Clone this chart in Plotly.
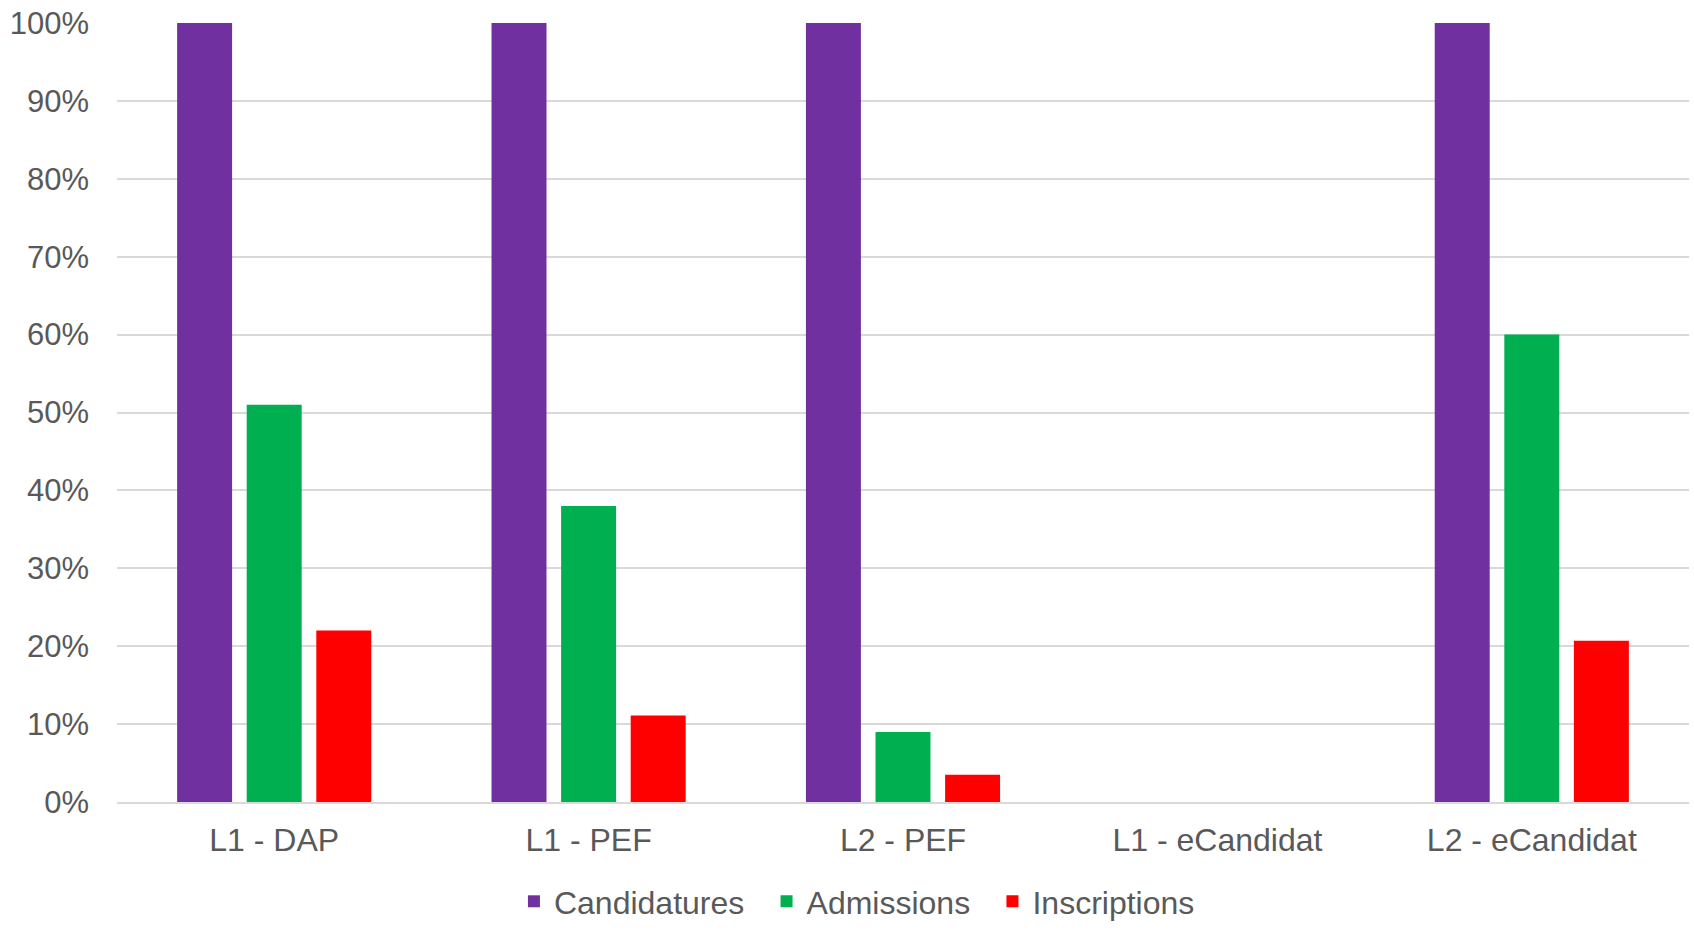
import plotly.graph_objects as go

categories = ["L1 - DAP", "L1 - PEF", "L2 - PEF", "L1 - eCandidat", "L2 - eCandidat"]
candidatures = [1.00, 1.00, 1.00, 0.0, 1.00]
admissions = [0.51, 0.38, 0.09, 0.0, 0.60]
inscriptions = [0.22, 0.111, 0.035, 0.0, 0.207]

series = [
    ("Candidatures", candidatures, "#7030A0", "legend", 0.2525),
    ("Admissions", admissions, "#00B050", "legend2", 0.4132),
    ("Inscriptions", inscriptions, "#FF0000", "legend3", 0.5569),
]

W, H = 1694, 930
L, R, T, B = 117, 5, 23, 128
plot_h = H - T - B

fig = go.Figure()
legends = {}
for name, vals, color, leg, lx in series:
    fig.add_trace(go.Bar(
        x=categories, y=vals, name=name, legend=leg,
        marker=dict(color=color, line=dict(width=0)),
    ))
    legends[leg] = dict(
        orientation="h", x=lx, xanchor="left",
        y=-(H - 1 - (T + plot_h)) / plot_h, yanchor="bottom",
        font=dict(size=32, color="#595959"), itemwidth=30,
        bgcolor="rgba(0,0,0,0)",
    )

font_family = "Liberation Sans, Arial, sans-serif"
fig.update_layout(
    width=W, height=H,
    barmode="group", bargap=0.336, bargroupgap=0.21,
    plot_bgcolor="white", paper_bgcolor="white",
    margin=dict(l=L, r=R, t=T, b=B, autoexpand=False),
    font=dict(family=font_family, color="#595959", size=31),
    showlegend=True,
    **legends,
)
fig.update_yaxes(
    range=[0, 1.0], tickvals=[i / 10 for i in range(11)],
    tickformat=".0%", showgrid=True, gridcolor="#d9d9d9", gridwidth=2,
    zeroline=False, showline=False, ticks="", ticklabelstandoff=27,
    ticklabeloverflow="allow",
    tickfont=dict(size=31, color="#595959"),
)
fig.update_xaxes(
    showgrid=False, showline=True, linecolor="#d9d9d9", linewidth=2,
    ticks="", ticklabelstandoff=9, tickfont=dict(size=32, color="#595959"),
)

fig.write_html(
    "out.html",
    config={"displayModeBar": False},
    post_script="document.body.style.margin='0';",
)
